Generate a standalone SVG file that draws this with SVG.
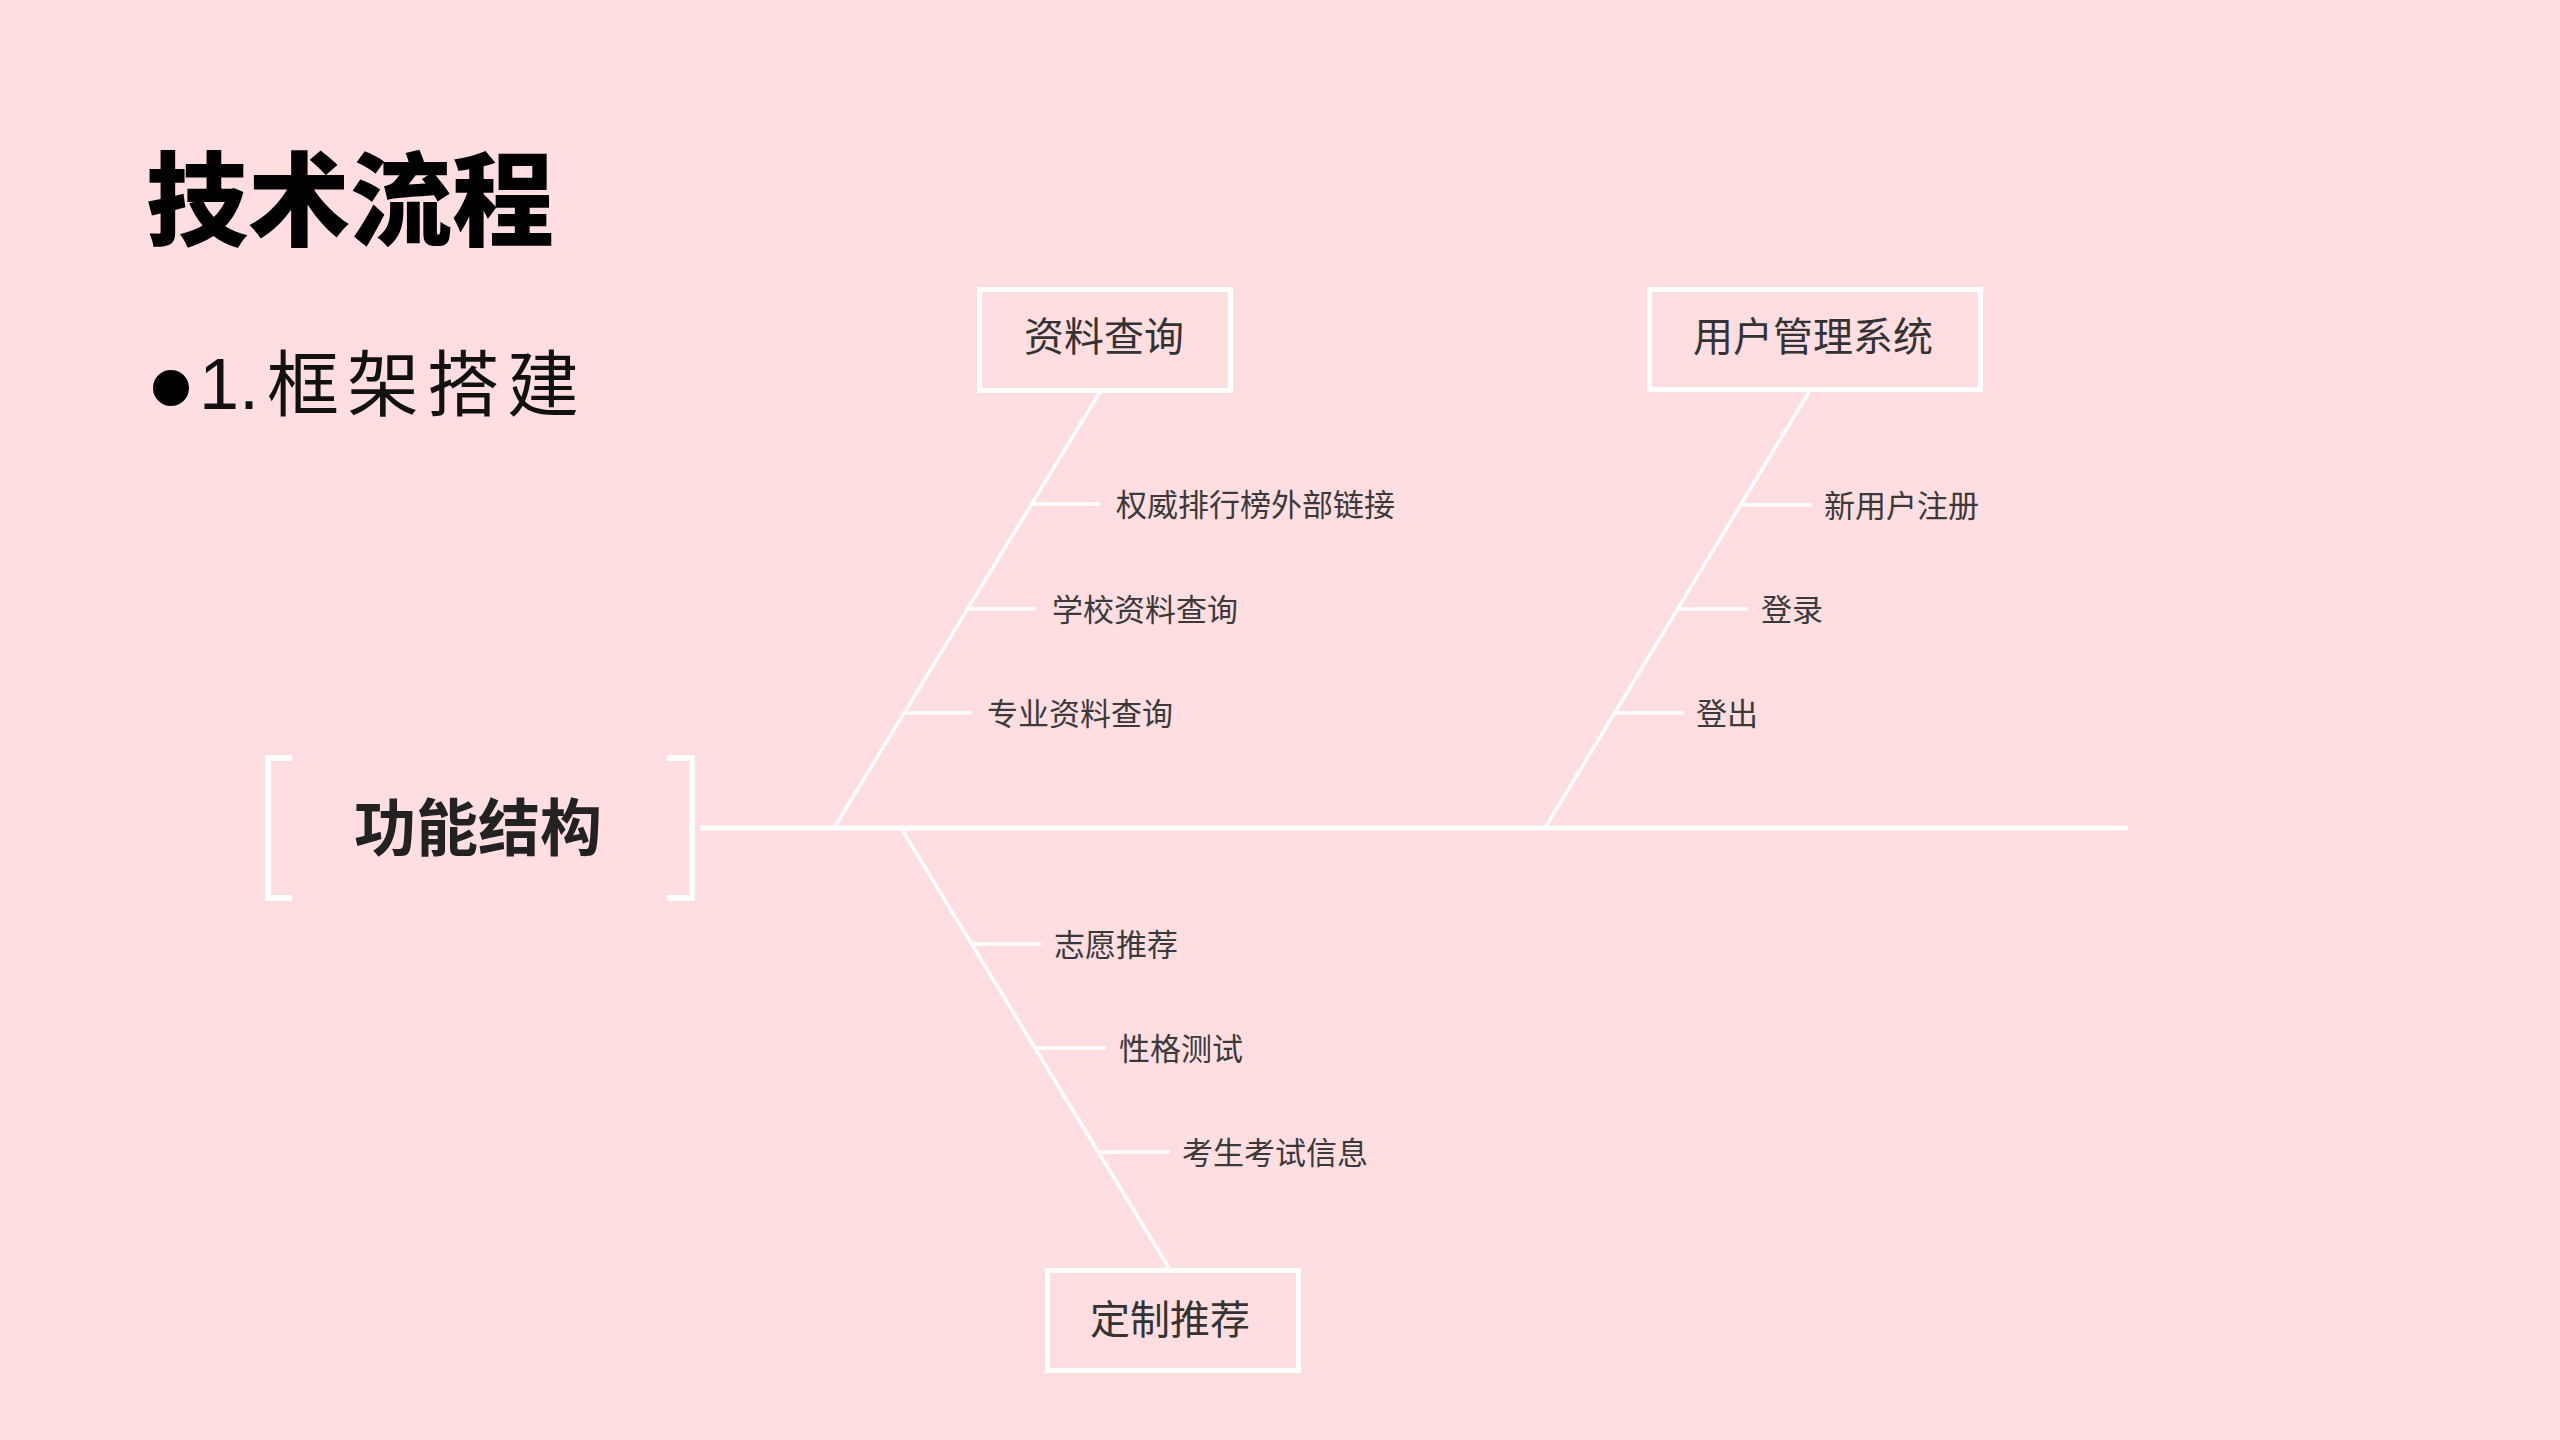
<svg xmlns="http://www.w3.org/2000/svg" width="2560" height="1440" viewBox="0 0 2560 1440">
<style>
.bg{fill:#FFDEE2}
.ln{stroke:#FFFFFF;fill:none;stroke-linecap:butt}
.spine{stroke-width:5}
.bone{stroke-width:3.5}
.sub{stroke-width:3.5}
.box{fill:none;stroke:#FFFFFF;stroke-width:5}
.cjk{font-family:"Noto Sans CJK SC","Noto Sans",sans-serif}
.lbl{font-size:31px;fill:#3a3a3a}
.btxt{font-size:40px;fill:#333333;text-anchor:middle}
</style>
<rect class="bg" x="0" y="0" width="2560" height="1440"/>
<g id="title">
<text class="cjk" x="146" y="238" font-size="102" font-weight="900" fill="#000000">技术流程</text>
</g>
<g id="bullet">
<circle cx="171" cy="388" r="18" fill="#000000"/>
<text x="199" y="409" font-family="Liberation Sans, Arial, sans-serif" font-size="72" fill="#111111">1.</text>
<text class="cjk" x="267" y="410" font-size="72" letter-spacing="8" fill="#111111">框架搭建</text>
</g>
<g id="root">
<path class="ln" stroke-width="6" d="M292 758 H268 V898 H292"/>
<path class="ln" stroke-width="6" d="M667 758 H692 V898 H667"/>
<text class="cjk" x="478" y="851" font-size="62" font-weight="bold" fill="#222222" text-anchor="middle">功能结构</text>
</g>
<g id="connectors">
<line class="ln spine" x1="700" y1="828" x2="2128" y2="828"/>
<line class="ln bone" x1="1100" y1="392" x2="834" y2="828"/>
<line class="ln bone" x1="1809" y1="392" x2="1545" y2="828"/>
<line class="ln bone" x1="901" y1="828" x2="1169" y2="1268"/>
<line class="ln sub" x1="1032" y1="504" x2="1100" y2="504"/>
<line class="ln sub" x1="968" y1="609" x2="1036" y2="609"/>
<line class="ln sub" x1="904" y1="713" x2="972" y2="713"/>
<line class="ln sub" x1="1741" y1="505" x2="1812" y2="505"/>
<line class="ln sub" x1="1677" y1="609" x2="1748" y2="609"/>
<line class="ln sub" x1="1613" y1="713" x2="1684" y2="713"/>
<line class="ln sub" x1="972" y1="944" x2="1041" y2="944"/>
<line class="ln sub" x1="1036" y1="1048" x2="1106" y2="1048"/>
<line class="ln sub" x1="1100" y1="1152" x2="1170" y2="1152"/>
</g>
<g id="node-ziliao">
<rect class="box" x="979.5" y="289.5" width="251" height="101"/>
<text class="cjk btxt" x="1104" y="351">资料查询</text>
</g>
<g id="node-yonghu">
<rect class="box" x="1649.5" y="289.5" width="331" height="100"/>
<text class="cjk btxt" x="1813" y="351">用户管理系统</text>
</g>
<g id="node-dingzhi">
<rect class="box" x="1047.5" y="1270.5" width="251" height="100"/>
<text class="cjk btxt" x="1170" y="1334">定制推荐</text>
</g>
<g id="leaf-quanwei"><text class="cjk lbl" x="1116" y="516">权威排行榜外部链接</text></g>
<g id="leaf-xuexiao"><text class="cjk lbl" x="1052" y="621">学校资料查询</text></g>
<g id="leaf-zhuanye"><text class="cjk lbl" x="987" y="725">专业资料查询</text></g>
<g id="leaf-xinyonghu"><text class="cjk lbl" x="1824" y="517">新用户注册</text></g>
<g id="leaf-denglu"><text class="cjk lbl" x="1761" y="621">登录</text></g>
<g id="leaf-dengchu"><text class="cjk lbl" x="1696" y="725">登出</text></g>
<g id="leaf-zhiyuan"><text class="cjk lbl" x="1054" y="956">志愿推荐</text></g>
<g id="leaf-xingge"><text class="cjk lbl" x="1119" y="1060">性格测试</text></g>
<g id="leaf-kaosheng"><text class="cjk lbl" x="1182" y="1164">考生考试信息</text></g>
</svg>
